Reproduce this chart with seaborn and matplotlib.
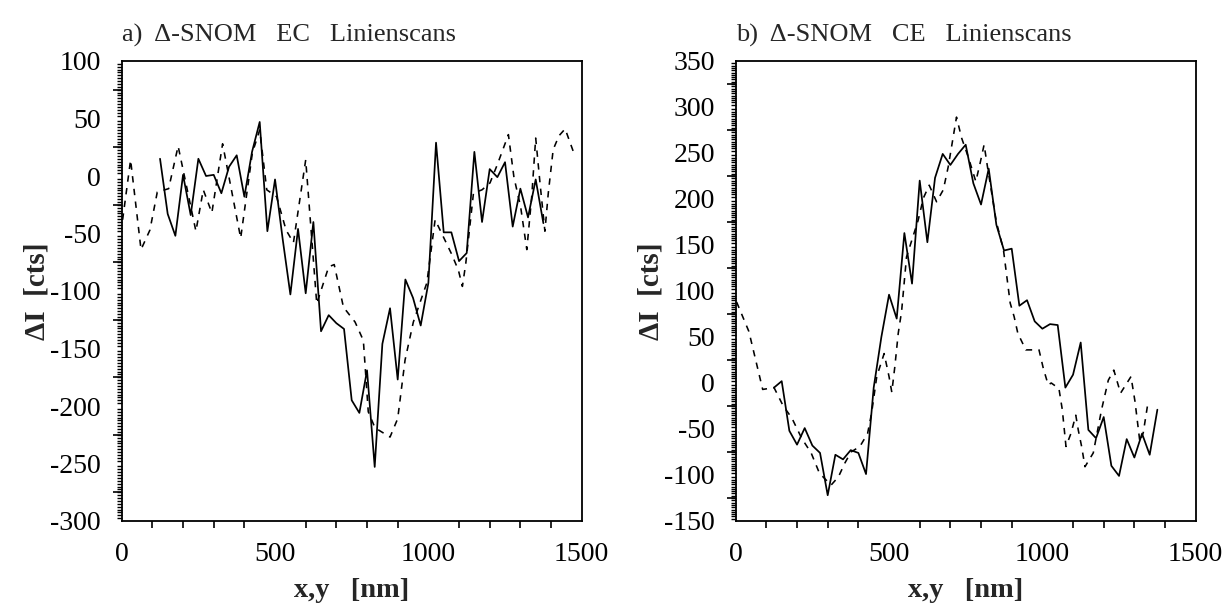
import numpy as np
import pandas as pd
import matplotlib
matplotlib.use("Agg")
import matplotlib.pyplot as plt
import seaborn as sns
from matplotlib.ticker import MultipleLocator, FixedLocator

# ---------------- data ----------------
# a) EC line scans
ec_solid_x = list(range(125, 1376, 25))
ec_solid_y = [15, -33, -52, 1, -34, 15, 0, 1, -15, 8, 18, -18, 21, 47, -48, -3,
              -55, -103, -46, -102, -40, -135, -121, -128, -133, -195, -206, -169,
              -253, -146, -115, -177, -90, -106, -130, -93, 29, -49, -49, -74, -67,
              21, -40, 6, -1, 12, -44, -11, -36, -3, -41]
ec_dash_x = [3, 29, 63, 92, 116, 153, 184, 242, 266, 294, 329, 388, 426, 450, 473,
             505, 536, 560, 600, 636, 675, 693, 723, 761, 788, 804, 826, 875, 900,
             924, 951, 978, 995, 1022, 1049, 1076, 1098, 1111, 1122, 1147, 1175,
             1201, 1225, 1261, 1279, 1301, 1321, 1337, 1350, 1364, 1380, 1391,
             1407, 1426, 1446, 1473]
ec_dash_y = [-38, 14, -64, -47, -14, -11, 26, -48, -12, -32, 28, -54, 20, 40, -12,
             -18, -47, -58, 14, -111, -79, -77, -114, -127, -143, -205, -219, -227,
             -211, -160, -127, -106, -93, -38, -53, -68, -82, -96, -76, -15, -12,
             -6, 10, 36, -1, -27, -64, -18, 33, -6, -48, -15, 23, 35, 41, 21]

# b) CE line scans
ce_solid_x = list(range(125, 1376, 25))
ce_solid_y = [-5, 2, -52, -67, -49, -68, -76, -122, -78, -83, -73, -76, -99, -5,
              50, 96, 70, 163, 108, 220, 153, 223, 249, 237, 249, 259, 217, 194,
              233, 172, 144, 146, 84, 90, 67, 59, 64, 63, -5, 9, 44, -51, -60, -37,
              -90, -101, -61, -81, -55, -78, -29]
ce_dash_x = [3, 43, 88, 125, 155, 183, 215, 246, 273, 311, 335, 356, 376, 405, 430,
             443, 460, 484, 500, 509, 519, 530, 541, 557, 595, 612, 631, 655, 677,
             693, 720, 737, 758, 783, 797, 810, 821, 850, 873, 895, 908, 920, 946,
             989, 1003, 1019, 1029, 1054, 1065, 1077, 1093, 1109, 1117, 1128, 1139,
             1166, 1193, 1215, 1233, 1255, 1289, 1302, 1318, 1329, 1345]
ce_dash_y = [88, 56, -7, -5, -25, -38, -60, -76, -98, -111, -102, -87, -75, -69, -55,
             -33, 7, 32, 7, -10, 18, 54, 78, 137, 177, 201, 215, 197, 210, 235, 289,
             266, 246, 219, 239, 259, 235, 175, 145, 87, 72, 54, 36, 36, 16, -2, 0,
             -6, -29, -69, -55, -35, -51, -69, -91, -76, -29, 3, 14, -11, 7, -20,
             -64, -54, -20]

titles = ["a)  \u0394-SNOM   EC   Linienscans", "b)  \u0394-SNOM   CE   Linienscans"]
xlabel = "x,y   [nm]"
ylabel = "\u0394I  [cts]"

# ---------------- style ----------------
sns.set_theme(style="white")
plt.rcParams["font.family"] = ["Liberation Serif", "DejaVu Serif"]
plt.rcParams["axes.unicode_minus"] = False

W, H = 1224, 604
fig = plt.figure(figsize=(W / 100, H / 100), dpi=100)

panels = [
    dict(left=121.7, right=581.7, ylim=(-300, 100),
         sx=ec_solid_x, sy=ec_solid_y, dx=ec_dash_x, dy=ec_dash_y, title=titles[0]),
    dict(left=735.7, right=1195.7, ylim=(-150, 350),
         sx=ce_solid_x, sy=ce_solid_y, dx=ce_dash_x, dy=ce_dash_y, title=titles[1]),
]
top_px, bot_px = 61, 521

for p in panels:
    ax = fig.add_axes([p["left"] / W, 1 - bot_px / H,
                       (p["right"] - p["left"]) / W, (bot_px - top_px) / H])
    ax.set_facecolor("white")
    sdf = pd.DataFrame({"x": p["sx"], "y": p["sy"]})
    ddf = pd.DataFrame({"x": p["dx"], "y": p["dy"]})
    sns.lineplot(data=ddf, x="x", y="y", ax=ax, color="black", lw=1.15,
                 linestyle=(0, (4, 4)), estimator=None, sort=False)
    sns.lineplot(data=sdf, x="x", y="y", ax=ax, color="black", lw=1.25,
                 estimator=None, sort=False)
    ax.set_xlim(0, 1500)
    ax.set_ylim(*p["ylim"])
    for s in ax.spines.values():
        s.set_visible(True)
        s.set_color("black")
        s.set_linewidth(1.3)
    ax.xaxis.set_major_locator(MultipleLocator(500))
    ax.xaxis.set_minor_locator(MultipleLocator(100))
    ax.yaxis.set_major_locator(MultipleLocator(50))
    ax.yaxis.set_minor_locator(MultipleLocator(2.5))
    ax.tick_params(axis="both", which="major", direction="out", length=9,
                   width=1.3, color="black", labelsize=20, labelcolor="black")
    ax.tick_params(axis="x", which="minor", direction="out", length=5, width=1.2,
                   color="black", bottom=True)
    ax.tick_params(axis="y", which="minor", direction="out", length=3.5, width=1.0,
                   color="black", left=True)
    ax.tick_params(axis="y", which="major", pad=6)
    ax.tick_params(axis="x", which="major", pad=6)
    # medium ticks every 25 on the y axis
    lo, hi = p["ylim"]
    mids = [v for v in np.arange(lo + 25, hi, 50)]
    sec = ax.secondary_yaxis("left")
    sec.yaxis.set_major_locator(FixedLocator(mids))
    sec.tick_params(axis="y", which="major", length=6.5, width=1.2,
                    direction="out", labelleft=False, color="black")
    sec.yaxis.set_minor_locator(FixedLocator([]))
    sec.spines["left"].set_visible(False)
    ax.set_xlabel(xlabel, fontsize=20.5, fontweight="bold", labelpad=8)
    ax.set_ylabel(ylabel, fontsize=21, fontweight="bold", labelpad=0)
    ax.set_title(p["title"], loc="left", fontsize=19, pad=14)
    ax.grid(False)

fig.savefig("out.png", dpi=100, facecolor="white")
